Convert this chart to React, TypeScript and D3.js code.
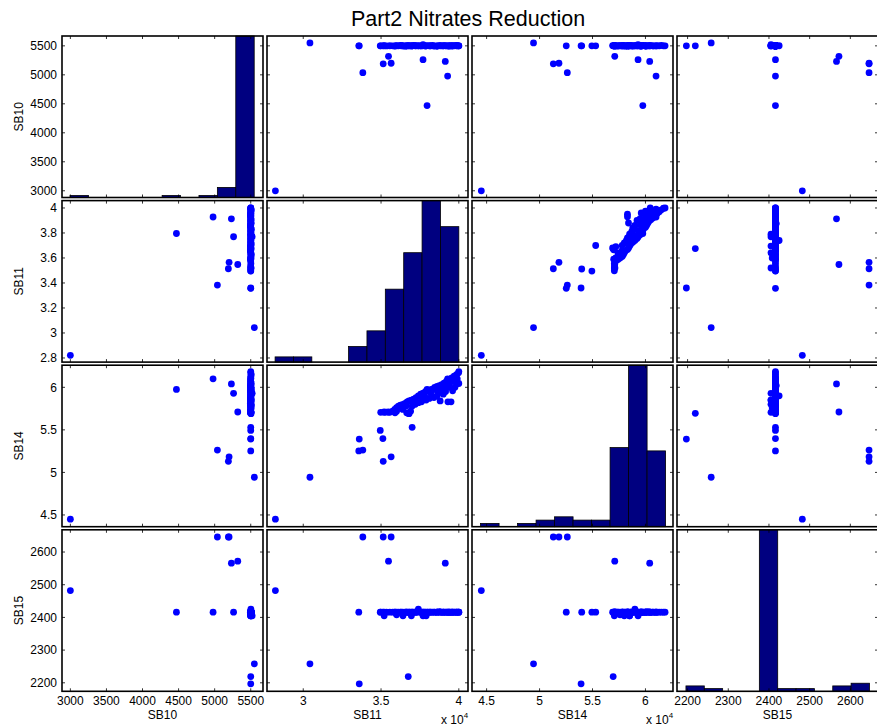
import React from 'react';
import * as d3 from 'd3';

const varNames = ['SB10', 'SB11', 'SB14', 'SB15'];

// observations (SB11 and SB14 in units of 10^4)
const sb10 = [
  3000, 4470, 4978, 5038, 5200, 5190, 5232, 5262, 5320, 5550, 5500, 5500, 5500, 5500, 5500, 5500,
  5500, 5505, 5498, 5502, 5500, 5496, 5504, 5500, 5508, 5500, 5495, 5503, 5500, 5498, 5506, 5500, 5502, 5520,
  5500, 5497, 5504, 5500, 5509, 5500, 5496, 5503, 5500, 5505, 5500, 5498, 5502, 5500, 5507, 5500, 5500,
  5500, 5504, 5500, 5498, 5500, 5503, 5500, 5496, 5500, 5505, 5500, 5502, 5500, 5498, 5500, 5504, 5500,
  5500, 5497, 5500, 5503, 5500, 5500, 5502, 5500, 5500,
  5500, 5502, 5498, 5500, 5504, 5500, 5497, 5500, 5503, 5500, 5500,
];
const sb11 = [
  2.821, 3.796, 3.928, 3.383, 3.565, 3.514, 3.913, 3.77, 3.548, 3.043, 3.36, 3.357, 3.512, 3.495, 3.7, 3.675,
  3.498, 3.52, 3.535, 3.556, 3.575, 3.588, 3.6, 3.612, 3.625, 3.641, 3.655, 3.668, 3.68, 3.695, 3.71, 3.725, 3.74, 3.77,
  3.755, 3.785, 3.8, 3.815, 3.83, 3.845, 3.86, 3.875, 3.89, 3.905, 3.92, 3.94, 3.955, 3.97, 3.985, 3.998, 4.0,
  3.665, 3.68, 3.69, 3.76, 3.79, 3.77, 3.81, 3.84, 3.86, 3.88, 3.9, 3.915, 3.93, 3.95, 3.96, 3.975, 3.985,
  4.0, 3.935, 3.88, 3.72, 3.74, 3.7, 3.64, 3.52, 3.59,
  3.6, 3.63, 3.66, 3.72, 3.78, 3.82, 3.86, 3.9, 3.94, 3.96, 3.99,
];
const sb14 = [
  4.45, 5.975, 6.1, 5.262, 5.183, 5.13, 6.04, 5.93, 5.71, 4.943, 5.392, 5.252, 5.398, 5.494, 5.53, 5.695,
  5.706, 5.706, 5.708, 5.706, 5.72, 5.74, 5.76, 5.78, 5.79, 5.8, 5.81, 5.83, 5.84, 5.85, 5.86, 5.88, 5.9, 5.93,
  5.92, 5.95, 5.96, 5.97, 5.98, 6.0, 6.01, 6.02, 6.03, 6.05, 6.07, 6.09, 6.11, 6.13, 6.15, 6.17, 6.185,
  5.7, 5.69, 5.72, 5.83, 5.85, 5.86, 5.87, 5.88, 5.9, 5.84, 5.92, 5.95, 5.83, 5.83, 5.96, 6.0, 6.04,
  6.045, 6.0, 5.96, 5.8, 5.82, 5.78, 5.74, 5.712, 5.7,
  5.72, 5.76, 5.78, 5.84, 5.9, 5.93, 5.96, 6.0, 6.04, 6.07, 6.1,
];
const sb15 = [
  2482, 2416, 2416, 2646, 2646, 2646, 2566, 2416, 2572, 2258, 2197, 2416, 2416, 2416, 2416, 2219,
  2416, 2405, 2416, 2416, 2416, 2416, 2408, 2416, 2416, 2405, 2416, 2416, 2416, 2405, 2416, 2416, 2425, 2405,
  2416, 2416, 2416, 2416, 2416, 2416, 2416, 2418, 2416, 2416, 2416, 2416, 2416, 2416, 2416, 2416, 2416,
  2416, 2416, 2416, 2416, 2405, 2416, 2416, 2416, 2416, 2416, 2416, 2416, 2416, 2416, 2416, 2416, 2416,
  2416, 2416, 2416, 2416, 2416, 2416, 2416, 2416, 2416,
  2416, 2416, 2416, 2416, 2416, 2416, 2416, 2416, 2416, 2416, 2416,
];
const columns = [sb10, sb11, sb14, sb15];

// axis limits per variable
const limits: [number, number][] = [[2884, 5670], [2.767, 4.059], [4.362, 6.26], [2174, 2668]];
const xTicks = [
  [3000, 3500, 4000, 4500, 5000, 5500],
  [3, 3.5, 4],
  [4.5, 5, 5.5, 6],
  [2200, 2300, 2400, 2500, 2600],
];
const yTicks = [
  [3000, 3500, 4000, 4500, 5000, 5500],
  [2.8, 3, 3.2, 3.4, 3.6, 3.8, 4],
  [4.5, 5, 5.5, 6],
  [2200, 2300, 2400, 2500, 2600],
];
const scaledVars = [false, true, true, false];

// histogram (10 bins) ranges and counts
const histRanges: [number, number][] = [[2996, 5548], [2.819, 4.0], [4.443, 6.19], [2196, 2647]];
const histCounts = [
  [1, 0, 0, 0, 0, 1, 0, 1, 5, 80],
  [1, 1, 0, 0, 3, 6, 14, 21, 31, 26],
  [1, 0, 1, 2, 3, 2, 2, 24, 49, 23],
  [2, 1, 0, 0, 60, 1, 1, 0, 2, 3],
];

const titleText = 'Part2 Nitrates Reduction';

const W = 877;
const H = 728;
const LEFT = 62;
const TOP = 36;
const PW = 201;
const PH = 161.5;
const SX = 205;
const SY = 164.6;
const FONT = '"Liberation Sans", Arial, Helvetica, sans-serif';

export default function App() {
  const n = varNames.length;
  const panels: React.ReactNode[] = [];
  for (let r = 0; r < n; r++) {
    for (let c = 0; c < n; c++) {
      const x0 = LEFT + c * SX;
      const y0 = TOP + r * SY;
      const xs = d3.scaleLinear().domain(limits[c]).range([x0, x0 + PW]);
      const ys = d3.scaleLinear().domain(limits[r]).range([y0 + PH, y0]);
      const items: React.ReactNode[] = [];
      items.push(<rect key="bg" x={x0} y={y0} width={PW} height={PH} fill="#fff" />);
      if (r === c) {
        const counts = histCounts[c];
        const [a, b] = histRanges[c];
        const bw = (b - a) / counts.length;
        const cs = d3.scaleLinear().domain([0, d3.max(counts) as number]).range([y0 + PH, y0]);
        counts.forEach((cnt, i) => {
          if (cnt <= 0) return;
          const xa = xs(a + i * bw);
          const xb = xs(a + (i + 1) * bw);
          items.push(
            <rect key={'h' + i} x={xa} y={cs(cnt)} width={xb - xa} height={y0 + PH - cs(cnt)}
              fill="#000080" stroke="#000" strokeWidth={0.8} />
          );
        });
      } else {
        const xd = columns[c];
        const yd = columns[r];
        xd.forEach((v, i) => {
          items.push(<circle key={'p' + i} cx={xs(v)} cy={ys(yd[i])} r={3.4} fill="#0000ff" />);
        });
      }
      // ticks
      xTicks[c].forEach((t, i) => {
        const x = xs(t);
        items.push(<line key={'xt' + i} x1={x} x2={x} y1={y0} y2={y0 + 3} stroke="#000" strokeWidth={0.8} />);
        items.push(<line key={'xb' + i} x1={x} x2={x} y1={y0 + PH - 3} y2={y0 + PH} stroke="#000" strokeWidth={0.8} />);
      });
      yTicks[r].forEach((t, i) => {
        const y = ys(t);
        items.push(<line key={'yl' + i} x1={x0} x2={x0 + 3} y1={y} y2={y} stroke="#000" strokeWidth={0.8} />);
        items.push(<line key={'yr' + i} x1={x0 + PW - 3} x2={x0 + PW} y1={y} y2={y} stroke="#000" strokeWidth={0.8} />);
      });
      items.push(<rect key="frame" x={x0} y={y0} width={PW} height={PH} fill="none" stroke="#000" strokeWidth={1.6} />);
      // labels
      if (c === 0) {
        yTicks[r].forEach((t, i) => {
          items.push(
            <text key={'yl' + i + 't'} x={x0 - 5} y={ys(t)} dy="0.35em" textAnchor="end" fontSize={12} fontFamily={FONT} fill="#000">
              {String(t)}
            </text>
          );
        });
        items.push(
          <text key="ylab" transform={`translate(${23},${y0 + PH / 2}) rotate(-90)`} textAnchor="middle" fontSize={12} fontFamily={FONT} fill="#000">
            {varNames[r]}
          </text>
        );
      }
      if (r === n - 1) {
        xTicks[c].forEach((t, i) => {
          items.push(
            <text key={'xl' + i + 't'} x={xs(t)} y={y0 + PH + 14} textAnchor="middle" fontSize={12} fontFamily={FONT} fill="#000">
              {String(t)}
            </text>
          );
        });
        items.push(
          <text key="xlab" x={x0 + PW / 2} y={y0 + PH + 27.5} textAnchor="middle" fontSize={12} fontFamily={FONT} fill="#000">
            {varNames[c]}
          </text>
        );
        if (scaledVars[c]) {
          items.push(
            <text key="exp" x={x0 + PW - 27} y={y0 + PH + 33} fontSize={12} fontFamily={FONT} fill="#000">
              x 10<tspan fontSize={8} dy={-6}>4</tspan>
            </text>
          );
        }
      }
      panels.push(<g key={`${r}-${c}`}>{items}</g>);
    }
  }
  return (
    <svg width={W} height={H} style={{ position: 'absolute', left: 0, top: 0, background: '#fff' }}>
      <rect x={0} y={0} width={W} height={H} fill="#fff" />
      {panels}
      <text x={468} y={26} textAnchor="middle" fontSize={21.5} fontFamily={FONT} fill="#000">
        {titleText}
      </text>
    </svg>
  );
}
